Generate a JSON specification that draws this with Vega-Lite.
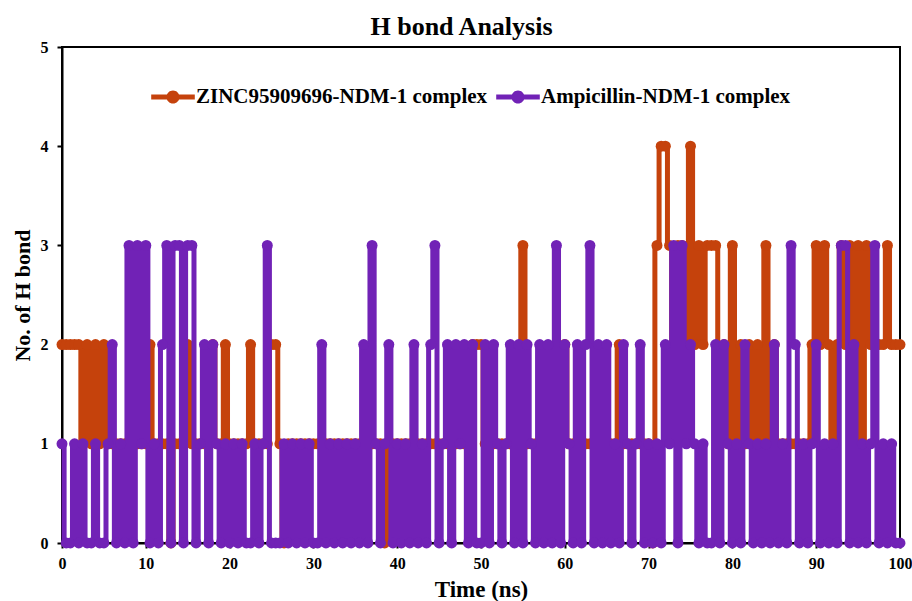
{
"$schema":"https://vega.github.io/schema/vega-lite/v6.json",
"width":838,"height":496,"autosize":"none",
"padding":{"left":62,"top":47,"right":12,"bottom":58},
"background":"white",
"title":{"text":"H bond Analysis","font":"Liberation Serif","fontSize":26,"fontWeight":"bold","color":"black","frame":"bounds","anchor":"middle","offset":-1},
"config":{"view":{"stroke":"black","strokeWidth":2},
"axis":{"domainColor":"black","domainWidth":2,"tickColor":"black","tickWidth":2,"tickSize":5,"grid":false,"labelFont":"Liberation Serif","labelFontWeight":"bold","labelFontSize":16,"labelColor":"black","titleFont":"Liberation Serif","titleFontWeight":"bold","titleFontSize":22,"titleColor":"black"}},
"data":{"values":[
{"t":0,"zinc":2,"amp":1},{"t":0.5,"zinc":2,"amp":0},{"t":1,"zinc":2,"amp":0},{"t":1.5,"zinc":2,"amp":1},{"t":2,"zinc":2,"amp":0},{"t":2.5,"zinc":1,"amp":1},{"t":3,"zinc":2,"amp":0},{"t":3.5,"zinc":1,"amp":0},{"t":4,"zinc":2,"amp":1},{"t":4.5,"zinc":1,"amp":0},
{"t":5,"zinc":2,"amp":0},{"t":5.5,"zinc":1,"amp":1},{"t":6,"zinc":1,"amp":2},{"t":6.5,"zinc":1,"amp":0},{"t":7,"zinc":1,"amp":1},{"t":7.5,"zinc":1,"amp":0},{"t":8,"zinc":1,"amp":3},{"t":8.5,"zinc":1,"amp":0},{"t":9,"zinc":1,"amp":3},{"t":9.5,"zinc":1,"amp":1},
{"t":10,"zinc":1,"amp":3},{"t":10.5,"zinc":2,"amp":0},{"t":11,"zinc":1,"amp":1},{"t":11.5,"zinc":1,"amp":0},{"t":12,"zinc":1,"amp":2},{"t":12.5,"zinc":1,"amp":3},{"t":13,"zinc":0,"amp":0},{"t":13.5,"zinc":1,"amp":3},{"t":14,"zinc":1,"amp":3},{"t":14.5,"zinc":1,"amp":0},
{"t":15,"zinc":2,"amp":3},{"t":15.5,"zinc":1,"amp":3},{"t":16,"zinc":1,"amp":0},{"t":16.5,"zinc":1,"amp":1},{"t":17,"zinc":1,"amp":2},{"t":17.5,"zinc":1,"amp":0},{"t":18,"zinc":2,"amp":2},{"t":18.5,"zinc":1,"amp":1},{"t":19,"zinc":1,"amp":0},{"t":19.5,"zinc":2,"amp":1},
{"t":20,"zinc":1,"amp":0},{"t":20.5,"zinc":1,"amp":1},{"t":21,"zinc":1,"amp":0},{"t":21.5,"zinc":1,"amp":1},{"t":22,"zinc":1,"amp":0},{"t":22.5,"zinc":2,"amp":0},{"t":23,"zinc":1,"amp":1},{"t":23.5,"zinc":1,"amp":0},{"t":24,"zinc":1,"amp":1},{"t":24.5,"zinc":1,"amp":3},
{"t":25,"zinc":2,"amp":0},{"t":25.5,"zinc":2,"amp":0},{"t":26,"zinc":1,"amp":0},{"t":26.5,"zinc":0,"amp":1},{"t":27,"zinc":1,"amp":0},{"t":27.5,"zinc":1,"amp":1},{"t":28,"zinc":1,"amp":0},{"t":28.5,"zinc":1,"amp":1},{"t":29,"zinc":1,"amp":0},{"t":29.5,"zinc":1,"amp":1},
{"t":30,"zinc":1,"amp":0},{"t":30.5,"zinc":1,"amp":0},{"t":31,"zinc":1,"amp":2},{"t":31.5,"zinc":1,"amp":0},{"t":32,"zinc":1,"amp":1},{"t":32.5,"zinc":1,"amp":0},{"t":33,"zinc":1,"amp":1},{"t":33.5,"zinc":1,"amp":0},{"t":34,"zinc":1,"amp":1},{"t":34.5,"zinc":1,"amp":0},
{"t":35,"zinc":1,"amp":1},{"t":35.5,"zinc":1,"amp":0},{"t":36,"zinc":1,"amp":2},{"t":36.5,"zinc":1,"amp":0},{"t":37,"zinc":1,"amp":3},{"t":37.5,"zinc":1,"amp":1},{"t":38,"zinc":1,"amp":0},{"t":38.5,"zinc":0,"amp":1},{"t":39,"zinc":1,"amp":2},{"t":39.5,"zinc":1,"amp":0},
{"t":40,"zinc":1,"amp":1},{"t":40.5,"zinc":1,"amp":0},{"t":41,"zinc":1,"amp":1},{"t":41.5,"zinc":1,"amp":0},{"t":42,"zinc":1,"amp":2},{"t":42.5,"zinc":1,"amp":0},{"t":43,"zinc":1,"amp":1},{"t":43.5,"zinc":1,"amp":0},{"t":44,"zinc":1,"amp":2},{"t":44.5,"zinc":1,"amp":3},
{"t":45,"zinc":1,"amp":0},{"t":45.5,"zinc":1,"amp":1},{"t":46,"zinc":1,"amp":2},{"t":46.5,"zinc":1,"amp":0},{"t":47,"zinc":1,"amp":2},{"t":47.5,"zinc":1,"amp":1},{"t":48,"zinc":1,"amp":2},{"t":48.5,"zinc":1,"amp":0},{"t":49,"zinc":2,"amp":2},{"t":49.5,"zinc":2,"amp":0},
{"t":50,"zinc":2,"amp":0},{"t":50.5,"zinc":1,"amp":2},{"t":51,"zinc":1,"amp":0},{"t":51.5,"zinc":1,"amp":2},{"t":52,"zinc":1,"amp":1},{"t":52.5,"zinc":1,"amp":0},{"t":53,"zinc":1,"amp":1},{"t":53.5,"zinc":1,"amp":2},{"t":54,"zinc":1,"amp":0},{"t":54.5,"zinc":1,"amp":2},
{"t":55,"zinc":3,"amp":0},{"t":55.5,"zinc":1,"amp":2},{"t":56,"zinc":1,"amp":1},{"t":56.5,"zinc":1,"amp":0},{"t":57,"zinc":1,"amp":2},{"t":57.5,"zinc":1,"amp":0},{"t":58,"zinc":1,"amp":2},{"t":58.5,"zinc":1,"amp":0},{"t":59,"zinc":1,"amp":3},{"t":59.5,"zinc":1,"amp":0},
{"t":60,"zinc":2,"amp":2},{"t":60.5,"zinc":1,"amp":1},{"t":61,"zinc":1,"amp":0},{"t":61.5,"zinc":1,"amp":2},{"t":62,"zinc":1,"amp":0},{"t":62.5,"zinc":1,"amp":2},{"t":63,"zinc":1,"amp":3},{"t":63.5,"zinc":1,"amp":0},{"t":64,"zinc":1,"amp":2},{"t":64.5,"zinc":1,"amp":0},
{"t":65,"zinc":1,"amp":2},{"t":65.5,"zinc":1,"amp":0},{"t":66,"zinc":1,"amp":1},{"t":66.5,"zinc":2,"amp":0},{"t":67,"zinc":1,"amp":2},{"t":67.5,"zinc":1,"amp":1},{"t":68,"zinc":1,"amp":0},{"t":68.5,"zinc":1,"amp":1},{"t":69,"zinc":1,"amp":2},{"t":69.5,"zinc":1,"amp":0},
{"t":70,"zinc":1,"amp":1},{"t":70.5,"zinc":0,"amp":0},{"t":71,"zinc":3,"amp":1},{"t":71.5,"zinc":4,"amp":0},{"t":72,"zinc":4,"amp":2},{"t":72.5,"zinc":3,"amp":1},{"t":73,"zinc":2,"amp":3},{"t":73.5,"zinc":3,"amp":0},{"t":74,"zinc":3,"amp":3},{"t":74.5,"zinc":2,"amp":1},
{"t":75,"zinc":4,"amp":2},{"t":75.5,"zinc":2,"amp":1},{"t":76,"zinc":3,"amp":0},{"t":76.5,"zinc":2,"amp":1},{"t":77,"zinc":3,"amp":0},{"t":77.5,"zinc":3,"amp":0},{"t":78,"zinc":3,"amp":2},{"t":78.5,"zinc":1,"amp":0},{"t":79,"zinc":2,"amp":2},{"t":79.5,"zinc":1,"amp":1},
{"t":80,"zinc":3,"amp":0},{"t":80.5,"zinc":1,"amp":1},{"t":81,"zinc":2,"amp":0},{"t":81.5,"zinc":1,"amp":2},{"t":82,"zinc":2,"amp":1},{"t":82.5,"zinc":1,"amp":0},{"t":83,"zinc":2,"amp":1},{"t":83.5,"zinc":1,"amp":0},{"t":84,"zinc":3,"amp":1},{"t":84.5,"zinc":1,"amp":0},
{"t":85,"zinc":2,"amp":2},{"t":85.5,"zinc":1,"amp":0},{"t":86,"zinc":1,"amp":1},{"t":86.5,"zinc":1,"amp":0},{"t":87,"zinc":1,"amp":3},{"t":87.5,"zinc":1,"amp":2},{"t":88,"zinc":1,"amp":0},{"t":88.5,"zinc":1,"amp":1},{"t":89,"zinc":1,"amp":0},{"t":89.5,"zinc":2,"amp":1},
{"t":90,"zinc":3,"amp":2},{"t":90.5,"zinc":2,"amp":0},{"t":91,"zinc":3,"amp":1},{"t":91.5,"zinc":2,"amp":0},{"t":92,"zinc":1,"amp":1},{"t":92.5,"zinc":2,"amp":0},{"t":93,"zinc":3,"amp":3},{"t":93.5,"zinc":2,"amp":3},{"t":94,"zinc":3,"amp":0},{"t":94.5,"zinc":2,"amp":2},
{"t":95,"zinc":3,"amp":0},{"t":95.5,"zinc":1,"amp":1},{"t":96,"zinc":3,"amp":0},{"t":96.5,"zinc":2,"amp":1},{"t":97,"zinc":2,"amp":3},{"t":97.5,"zinc":2,"amp":0},{"t":98,"zinc":2,"amp":1},{"t":98.5,"zinc":3,"amp":0},{"t":99,"zinc":2,"amp":1},{"t":99.5,"zinc":2,"amp":0},
{"t":100,"zinc":2,"amp":0}
]},
"encoding":{
"x":{"field":"t","type":"quantitative","scale":{"domain":[0,100],"nice":false},"axis":{"values":[0,10,20,30,40,50,60,70,80,90,100],"format":"d","labelFlush":false,"title":"Time (ns)","titleFontSize":23,"labelPadding":7,"titlePadding":7}}
},
"layer":[
{"mark":{"type":"line","strokeWidth":5,"interpolate":"step","point":{"size":120,"filled":true,"opacity":1}},
"encoding":{
"y":{"field":"zinc","type":"quantitative","scale":{"domain":[0,5],"nice":false},"axis":{"values":[0,1,2,3,4,5],"format":"d","title":"No. of H bond","labelPadding":9,"titlePadding":6}},
"color":{"datum":"ZINC95909696-NDM-1 complex","scale":{"domain":["ZINC95909696-NDM-1 complex","Ampicillin-NDM-1 complex"],"range":["#C5420C","#7122B6"]},
"legend":{"title":null,"orient":"none","direction":"horizontal","legendX":89,"legendY":28,"labelFont":"Liberation Serif","labelFontWeight":"bold","labelFontSize":21,"labelColor":"black","labelLimit":0,"symbolType":"M-1,-0.12L1,-0.12L1,0.12L-1,0.12Z M0.3,0 A0.3,0.3 0 1,1 -0.3,0 A0.3,0.3 0 1,1 0.3,0 Z","symbolSize":1900,"symbolStrokeWidth":0,"columnPadding":8,"labelOffset":1,
"encode":{"symbols":{"update":{"fill":{"scale":"color","field":"value"},"fillOpacity":{"value":1},"strokeWidth":{"value":0}}}}}}
}},
{"mark":{"type":"line","strokeWidth":5,"interpolate":"step","point":{"size":120,"filled":true,"opacity":1}},
"encoding":{
"y":{"field":"amp","type":"quantitative"},
"color":{"datum":"Ampicillin-NDM-1 complex"}
}}
]
}
